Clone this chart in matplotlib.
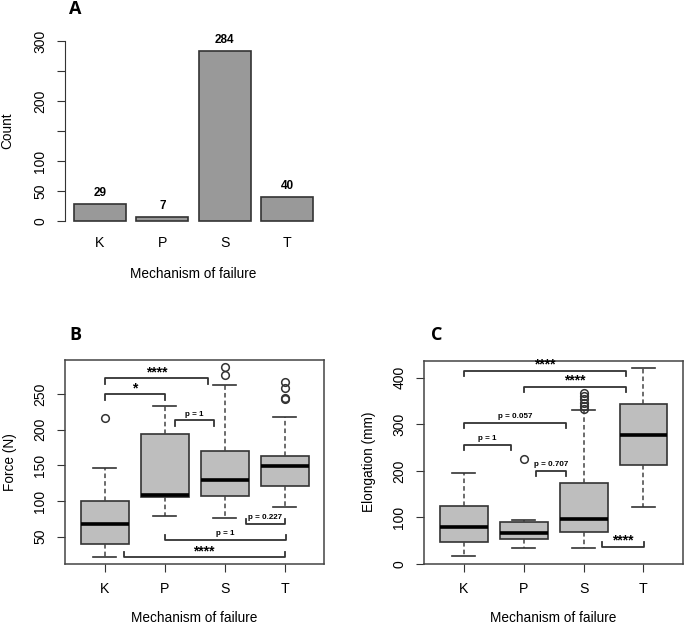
import matplotlib.pyplot as plt

plt.rcParams['font.family'] = ['Liberation Sans', 'DejaVu Sans']

# Data
mechanisms = ['K', 'P', 'S', 'T']
counts = [29, 7, 284, 40]

# Panel B: force (N) box statistics
force_whislo = [22, 79, 76, 92]
force_q1 = [40, 105, 107.5, 121.5]
force_med = [68, 108.5, 129, 149]
force_q3 = [100.5, 193.5, 170, 163.5]
force_whishi = [146, 233, 262.5, 218.5]
force_fliers = [[216], [], [276, 288], [242.5, 245, 258, 267.5]]

# Panel C: elongation (mm) box statistics
elong_whislo = [16.5, 34, 34, 122]
elong_q1 = [47, 53.5, 69, 213.5]
elong_med = [80, 66.5, 97, 277]
elong_q3 = [125, 91, 174, 343]
elong_whishi = [195, 93.5, 330, 421.5]
elong_fliers = [[], [225.5], [333.5, 339, 346, 354, 361, 368], []]

# Significance brackets (x start, x end, y, label, tips pointing up?)
force_br_x1 = [1.0, 1.0, 2.17, 3.35, 2.0, 1.32]
force_br_x2 = [2.73, 2.0, 2.83, 4.0, 4.02, 4.0]
force_br_y = [272, 249.6, 213, 67.8, 45.4, 21.5]
force_br_lab = ['****', '*', 'p = 1', 'p = 0.227', 'p = 1', '****']
force_br_up = [False, False, False, True, True, True]

elong_br_x1 = [1.0, 2.01, 1.0, 1.0, 2.2, 3.31]
elong_br_x2 = [3.7, 3.7, 2.71, 1.78, 2.71, 4.01]
elong_br_y = [414.4, 380, 303, 255, 200.6, 37]
elong_br_lab = ['****', '****', 'p = 0.057', 'p = 1', 'p = 0.707', '****']
elong_br_up = [False, False, False, False, False, True]

W, H = 685, 624
fig = plt.figure(figsize=(W / 100, H / 100), dpi=100)


def px_axes(left, top, right, bottom):
    return fig.add_axes([left / W, 1 - bottom / H, (right - left) / W, (bottom - top) / H])


edge = '#333333'
pos = [1, 2, 3, 4]

# ---- Panel A: bar chart ----
axA = px_axes(64.5, 33.8, 322.5, 228.2)
bars = axA.bar(pos, counts, width=0.833, color='#999999', edgecolor=edge, linewidth=1.2)
for b, c in zip(bars, counts):
    axA.annotate(str(c), (b.get_x() + b.get_width() / 2, c), xytext=(0, 3.5),
                 textcoords='offset points', ha='center', va='bottom',
                 fontsize=8.5, fontweight='bold')
axA.set_xlim(0.43, 4.57)
axA.set_ylim(-12, 312)
for s in ['top', 'right', 'bottom']:
    axA.spines[s].set_visible(False)
axA.spines['left'].set_bounds(0, 300)
axA.spines['left'].set_color(edge)
axA.set_yticks([0, 50, 100, 150, 200, 250, 300])
axA.set_yticklabels(['0', '50', '100', '', '200', '', '300'])
axA.set_xticks(pos)
axA.set_xticklabels(mechanisms)
axA.tick_params(axis='x', length=0, pad=5.3, labelsize=10.2)
axA.tick_params(axis='y', length=5.5, pad=7, labelsize=10, color=edge, labelrotation=90)
for t in axA.get_yticklabels():
    t.set_va('center')
axA.set_xlabel('Mechanism of failure', fontsize=9.8)
axA.xaxis.set_label_coords(0.5, (228.2 - 274) / 194.4)
axA.xaxis.label.set_va('center')
axA.set_ylabel('Count', fontsize=9.8)
axA.yaxis.set_label_coords((7 - 64.5) / 258, 0.5)
axA.yaxis.label.set_va('center')


def box_panel(ax, whislo, q1, med, q3, whishi, fliers, br_x1, br_x2, br_y, br_lab, br_up, tip):
    stats = []
    for i in range(4):
        stats.append(dict(whislo=whislo[i], q1=q1[i], med=med[i], q3=q3[i],
                          whishi=whishi[i], fliers=fliers[i]))
    ax.bxp(stats, positions=pos, widths=0.8, capwidths=0.38, patch_artist=True,
           boxprops=dict(facecolor='#BEBEBE', edgecolor=edge, linewidth=1.2),
           medianprops=dict(color='black', linewidth=2.6),
           whiskerprops=dict(color='#444444', linewidth=1.1, linestyle=(0, (3, 2))),
           capprops=dict(color=edge, linewidth=1.2),
           flierprops=dict(marker='o', markerfacecolor='none', markeredgecolor=edge,
                           markersize=5.5, markeredgewidth=1.1))
    for x1, x2, y, lab, up in zip(br_x1, br_x2, br_y, br_lab, br_up):
        ty = y + tip if up else y - tip
        ax.plot([x1, x1, x2, x2], [ty, y, y, ty], color=edge, linewidth=1.3)
        if lab.startswith('*'):
            ax.annotate(lab, ((x1 + x2) / 2, y), xytext=(0, 1.5), textcoords='offset points',
                        ha='center', va='baseline', fontsize=10, fontweight='bold')
        else:
            ax.annotate(lab, ((x1 + x2) / 2, y), xytext=(0, 2), textcoords='offset points',
                        ha='center', va='bottom', fontsize=5.8, fontweight='bold')
    ax.set_xlim(0.34, 4.66)
    ax.set_xticks(pos)
    ax.set_xticklabels(mechanisms)
    for s in ax.spines.values():
        s.set_color('#444444')
        s.set_linewidth(1.1)
    ax.tick_params(axis='x', length=5.5, pad=7.5, labelsize=10.2, color=edge)
    ax.tick_params(axis='y', length=5.5, pad=7.5, labelsize=10, color=edge, labelrotation=90)
    for t in ax.get_yticklabels():
        t.set_va('center')
    ax.set_xlabel('Mechanism of failure', fontsize=9.8)
    ax.xaxis.set_label_coords(0.5, (564 - 618) / 204)
    ax.xaxis.label.set_va('center')


# ---- Panel B: force ----
axB = px_axes(65, 360, 324.3, 564)
box_panel(axB, force_whislo, force_q1, force_med, force_q3, force_whishi, force_fliers,
          force_br_x1, force_br_x2, force_br_y, force_br_lab, force_br_up, 7.5)
axB.set_ylim(11.8, 297.7)
axB.set_yticks([50, 100, 150, 200, 250])
axB.set_ylabel('Force (N)', fontsize=9.8)
axB.yaxis.set_label_coords((10 - 65) / 259.3, 0.5)
axB.yaxis.label.set_va('center')

# ---- Panel C: elongation ----
axC = px_axes(424.3, 360.5, 683, 564)
box_panel(axC, elong_whislo, elong_q1, elong_med, elong_q3, elong_whishi, elong_fliers,
          elong_br_x1, elong_br_x2, elong_br_y, elong_br_lab, elong_br_up, 11)
axC.set_ylim(0, 437)
axC.set_yticks([0, 100, 200, 300, 400])
axC.set_ylabel('Elongation (mm)', fontsize=9.8)
axC.yaxis.set_label_coords((369.5 - 424.3) / 258.7, 0.5)
axC.yaxis.label.set_va('center')

# Panel letters
for letter, x, y in [('A', 75, 9), ('B', 75, 335), ('C', 436.5, 335)]:
    fig.text(x / W, 1 - y / H, letter, ha='center', va='center', fontsize=13,
             fontweight='bold', family=['Open Sans', 'DejaVu Sans'])

fig.savefig('out.png', dpi=100, facecolor='white')
